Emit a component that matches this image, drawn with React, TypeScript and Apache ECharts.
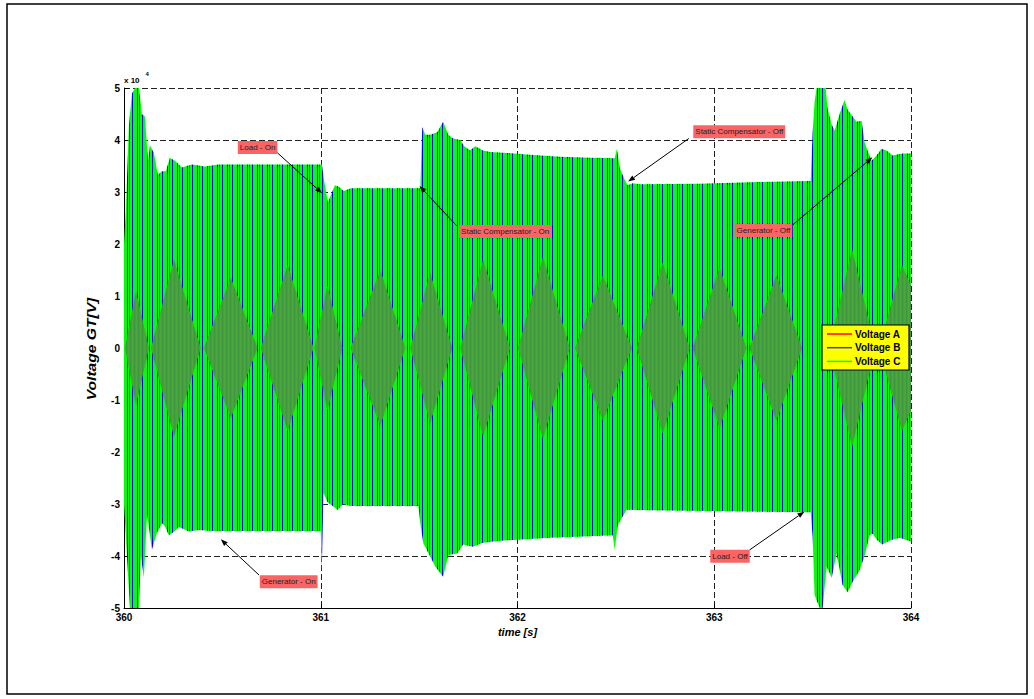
import React, { useEffect, useRef } from "react";
import * as echarts from "echarts";

// ---------- data (voltage in units of 10^4 V, time in s) ----------
const timeTicks = [360, 361, 362, 363, 364];
const voltTicks = [-5, -4, -3, -2, -1, 0, 1, 2, 3, 4, 5];

const phaseNames = ["Voltage A", "Voltage B", "Voltage C"];
const phaseColors = ["#ff0000", "#0000ff", "#00ff00"];

// upper envelope of the three phase voltages
const upperTime = [
  360.0, 360.01, 360.025, 360.041, 360.056, 360.076, 360.091, 360.106, 360.122, 360.132,
  360.152, 360.172, 360.193, 360.213, 360.233, 360.259, 360.294, 360.345, 360.411, 360.482,
  361.006, 361.016, 361.036, 361.072, 361.092, 361.117, 361.153, 361.506, 361.516, 361.531,
  361.556, 361.592, 361.622, 361.648, 361.673, 361.709, 361.729, 361.759, 361.785, 361.825,
  361.861, 361.947, 362.079, 362.216, 362.368, 362.494, 362.505, 362.52, 362.545, 362.56,
  362.586, 362.621, 362.925, 363.229, 363.49, 363.5, 363.51, 363.52, 363.566, 363.576,
  363.597, 363.612, 363.637, 363.662, 363.678, 363.698, 363.723, 363.749, 363.764, 363.779,
  363.799, 363.825, 363.85, 363.875, 363.906, 363.957, 364.0,
];
const upperVolt = [
  2.0, 2.7, 4.3, 4.9, 5.0, 5.0, 4.5, 4.45, 3.6, 3.9,
  3.75, 3.33, 3.4, 3.4, 3.66, 3.6, 3.47, 3.53, 3.49, 3.53,
  3.53, 3.25, 2.8, 3.13, 3.1, 3.02, 3.07, 3.07, 4.25, 4.1,
  4.1, 4.15, 4.35, 4.1, 4.03, 4.0, 3.88, 3.8, 3.88, 3.8,
  3.77, 3.75, 3.71, 3.68, 3.66, 3.65, 3.83, 3.46, 3.23, 3.13,
  3.17, 3.15, 3.16, 3.19, 3.21, 4.15, 4.73, 5.0, 5.0, 4.6,
  4.3, 4.18, 4.5, 4.77, 4.58, 4.48, 4.35, 4.37, 3.96, 3.8,
  3.6, 3.7, 3.83, 3.8, 3.7, 3.74, 3.74,
];

// lower envelope of the three phase voltages
const lowerTime = [
  360.0, 360.015, 360.03, 360.076, 360.086, 360.101, 360.117, 360.142, 360.167, 360.193,
  360.208, 360.228, 360.253, 360.279, 360.33, 360.38, 360.446, 361.0, 361.005, 361.014,
  361.034, 361.085, 361.115, 361.151, 361.496, 361.506, 361.521, 361.556, 361.582, 361.622,
  361.648, 361.693, 361.724, 361.774, 361.82, 361.876, 361.977, 362.165, 362.368, 362.484,
  362.494, 362.51, 362.555, 362.672, 363.077, 363.49, 363.5, 363.51, 363.536, 363.551,
  363.571, 363.597, 363.622, 363.652, 363.678, 363.703, 363.739, 363.764, 363.789, 363.804,
  363.83, 363.855, 363.891, 363.942, 364.0,
];
const lowerVolt = [
  -3.0, -4.0, -5.0, -5.0, -4.0, -4.42, -3.2, -3.88, -3.56, -3.37,
  -3.43, -3.6, -3.54, -3.44, -3.53, -3.5, -3.52, -3.52, -4.3, -2.79,
  -2.96, -3.11, -3.0, -3.04, -3.04, -3.37, -3.75, -4.01, -4.2, -4.4,
  -3.98, -3.95, -3.78, -3.82, -3.75, -3.72, -3.69, -3.65, -3.62, -3.6,
  -3.88, -3.4, -3.11, -3.12, -3.14, -3.16, -3.63, -4.75, -5.0, -5.0,
  -4.2, -4.42, -3.95, -4.56, -4.69, -4.5, -4.27, -4.0, -3.6, -3.57,
  -3.7, -3.78, -3.7, -3.65, -3.72,
];

// beat pattern (dense overlap "diamonds" around zero)
const diamondTime = [
  360.005, 360.061, 360.127, 360.137, 360.254, 360.39, 360.406, 360.543, 360.679,
  360.695, 360.832, 360.963, 360.968, 361.034, 361.11, 361.151, 361.303, 361.43,
  361.455, 361.556, 361.668, 361.709, 361.825, 361.962, 362.003, 362.129, 362.266,
  362.292, 362.434, 362.581, 362.606, 362.738, 362.875, 362.89, 363.027, 363.164,
  363.179, 363.316, 363.447, 363.584, 363.701, 363.818, 363.838, 363.954, 364.0,
];
const diamondHalf = [
  0, 1.1, 0, 0, 1.7, 0, 0, 1.35, 0,
  0, 1.6, 0, 0, 1.2, 0, 0, 1.5, 0,
  0, 1.45, 0, 0, 1.7, 0, 0, 1.75, 0,
  0, 1.4, 0, 0, 1.65, 0, 0, 1.55, 0,
  0, 1.4, 0, 0, 1.9, 0, 0, 1.6, 1.2,
];

// annotations: label, box centre, arrow tail, arrow tip (data coords)
const annLabels = [
  "Load - On",
  "Static Compensator - On",
  "Static Compensator - Off",
  "Generator - Off",
  "Generator - On",
  "Load - Off",
];
const annBox = [
  [360.679, 3.856], [361.937, 2.24], [363.127, 4.16],
  [363.25, 2.26], [360.837, -4.494], [363.08, -4.006],
];
const annTail = [
  [360.779, 3.756], [361.692, 2.346], [362.871, 4.03],
  [363.398, 2.365], [360.686, -4.365], [363.179, -3.885],
];
const annTip = [
  [361.007, 2.975], [361.502, 3.115], [362.562, 3.2],
  [363.804, 3.667], [360.492, -3.679], [363.458, -3.148],
];

const FONT = "'Liberation Sans', Arial, Helvetica, sans-serif";

function makePattern(cols: [number, string][], width: number) {
  const c = document.createElement("canvas");
  c.width = width;
  c.height = 4;
  const ctx = c.getContext("2d")!;
  for (const [x, col] of cols) {
    ctx.fillStyle = col;
    ctx.fillRect(x, 0, 1, 4);
  }
  return { image: c, repeat: "repeat", imageWidth: width, imageHeight: 4 };
}

function buildOption() {
  const upperData = upperTime.map((t, i) => [t, upperVolt[i]]);
  const lowerData = lowerTime.map((t, i) => [t, lowerVolt[i]]);
  const dUp = diamondTime.map((t, i) => [t, diamondHalf[i]]);
  const dDown = diamondTime.map((t, i) => [t, -diamondHalf[i]]);

  const green = phaseColors[2];
  const blue = phaseColors[1];
  const red = phaseColors[0];
  const redCols = [9, 19];
  const blueCols = [2, 7, 12, 17];
  const greenCols: number[] = [];
  for (let x = 0; x < 20; x++) if (!redCols.includes(x) && !blueCols.includes(x)) greenCols.push(x);
  const patterns = [
    makePattern(redCols.map((x) => [x, red] as [number, string]), 20),
    makePattern(blueCols.map((x) => [x, blue] as [number, string]), 20),
    makePattern(greenCols.map((x) => [x, green] as [number, string]), 20),
  ];
  const diamondPattern = makePattern(
    [[0, "#4aa835"], [1, "#5a9a30"], [2, "#3f9448"], [3, "#6a9030"]],
    4
  );

  const series: any[] = [];
  phaseNames.forEach((name, k) => {
    [upperData, lowerData].forEach((data) => {
      series.push({
        type: "line",
        name,
        data,
        symbol: "none",
        showSymbol: false,
        silent: true,
        lineStyle: { width: 0, opacity: 0 },
        areaStyle: { color: patterns[k], opacity: 1 },
        z: 2,
      });
    });
  });
  [dUp, dDown].forEach((data) => {
    series.push({
      type: "line",
      name: "beat",
      data,
      symbol: "none",
      showSymbol: false,
      silent: true,
      lineStyle: { width: 0, opacity: 0 },
      areaStyle: { color: diamondPattern, opacity: 1 },
      z: 3,
    });
  });

  const splitLine = {
    show: true,
    lineStyle: { color: "#222", type: [6, 3], width: 1 },
  };
  const axisLabel = {
    color: "#000",
    fontFamily: FONT,
    fontWeight: "bold",
    fontSize: 10,
  };

  return {
    animation: false,
    backgroundColor: "#ffffff",
    grid: { left: 124, top: 88, right: 123, bottom: 91 },
    xAxis: {
      type: "value",
      min: timeTicks[0],
      max: timeTicks[timeTicks.length - 1],
      interval: 1,
      axisLine: { show: true, onZero: false, lineStyle: { color: "#000", width: 1 } },
      axisTick: { show: true, inside: true, length: 5, lineStyle: { color: "#000" } },
      axisLabel: { ...axisLabel, margin: 4, showMinLabel: true, showMaxLabel: true, formatter: (v: number) => String(v) },
      splitLine,
      name: "time [s]",
      nameLocation: "middle",
      nameGap: 16,
      nameTextStyle: { fontFamily: FONT, fontWeight: "bold", fontStyle: "italic", fontSize: 11, color: "#000" },
    },
    yAxis: {
      type: "value",
      min: voltTicks[0],
      max: voltTicks[voltTicks.length - 1],
      interval: 1,
      axisLine: { show: true, onZero: false, lineStyle: { color: "#000", width: 1 } },
      axisTick: { show: true, inside: true, length: 5, lineStyle: { color: "#000" } },
      axisLabel: { ...axisLabel, margin: 4, showMinLabel: true, showMaxLabel: true, formatter: (v: number) => String(v) },
      splitLine,
    },
    series,
  };
}

export default function App() {
  const ref = useRef<HTMLDivElement>(null);
  useEffect(() => {
    const el = ref.current!;
    const chart = echarts.init(el, undefined, { renderer: "svg" });
    chart.setOption(buildOption() as any);

    const px = (p: number[]) => chart.convertToPixel({ gridIndex: 0 }, p) as number[];
    const g: any[] = [];
    g.push({
      type: "rect",
      silent: true,
      shape: { x: 7, y: 4, width: 1020, height: 690 },
      style: { fill: "none", stroke: "#000", lineWidth: 1.5 },
      z: 100,
    });
    g.push({
      type: "text",
      x: 124,
      y: 80,
      style: { text: "x 10", font: `bold 8px ${FONT}`, fill: "#000", align: "left", verticalAlign: "middle" },
      z: 100,
    });
    g.push({
      type: "text",
      x: 145.5,
      y: 74,
      style: { text: "4", font: `bold 6px ${FONT}`, fill: "#000", align: "left", verticalAlign: "middle" },
      z: 100,
    });
    g.push({
      type: "text",
      x: 92,
      y: 349,
      rotation: Math.PI / 2,
      scaleX: 1.3,
      style: {
        text: "Voltage GT[V]",
        font: `italic bold 12px ${FONT}`,
        fill: "#000",
        align: "center",
        verticalAlign: "middle",
      },
      z: 100,
    });

    // legend
    const lx = 822, ly = 325;
    g.push({
      type: "rect",
      shape: { x: lx, y: ly, width: 87, height: 45 },
      style: { fill: "#ffff00", stroke: "#000", lineWidth: 1.2 },
      z: 110,
    });
    const legendLineColors = ["#ff0000", "#3a3ad8", "#00ff00"];
    phaseNames.forEach((name, i) => {
      const y = ly + 9 + i * 13.7;
      g.push({
        type: "line",
        shape: { x1: lx + 5, y1: y, x2: lx + 30, y2: y },
        style: { stroke: legendLineColors[i], lineWidth: 1.5 },
        z: 111,
      });
      g.push({
        type: "text",
        x: lx + 33,
        y,
        style: { text: name, font: `bold 10px ${FONT}`, fill: "#000", align: "left", verticalAlign: "middle" },
        z: 111,
      });
    });

    // annotations
    annLabels.forEach((label, i) => {
      const tail = px(annTail[i]);
      const tip = px(annTip[i]);
      const box = px(annBox[i]);
      const dx = tip[0] - tail[0];
      const dy = tip[1] - tail[1];
      const len = Math.sqrt(dx * dx + dy * dy) || 1;
      const ux = dx / len, uy = dy / len;
      const hl = 7, hw = 2.6;
      const bx = tip[0] - ux * hl, by = tip[1] - uy * hl;
      g.push({
        type: "line",
        shape: { x1: tail[0], y1: tail[1], x2: bx, y2: by },
        style: { stroke: "#000", lineWidth: 1 },
        z: 120,
      });
      g.push({
        type: "polygon",
        shape: {
          points: [
            [tip[0], tip[1]],
            [bx - uy * hw, by + ux * hw],
            [bx + uy * hw, by - ux * hw],
          ],
        },
        style: { fill: "#000" },
        z: 120,
      });
      g.push({
        type: "text",
        x: box[0],
        y: box[1],
        style: {
          text: label,
          font: `8px ${FONT}`,
          fill: "#222",
          align: "center",
          verticalAlign: "middle",
          backgroundColor: "#fa6464",
          padding: [2, 2, 2, 2],
          lineHeight: 9,
        },
        z: 121,
      });
    });

    chart.setOption({ graphic: g } as any);
    return () => chart.dispose();
  }, []);

  return (
    <div
      ref={ref}
      style={{ position: "absolute", left: 0, top: 0, width: 1034, height: 699, background: "#fff" }}
    />
  );
}
